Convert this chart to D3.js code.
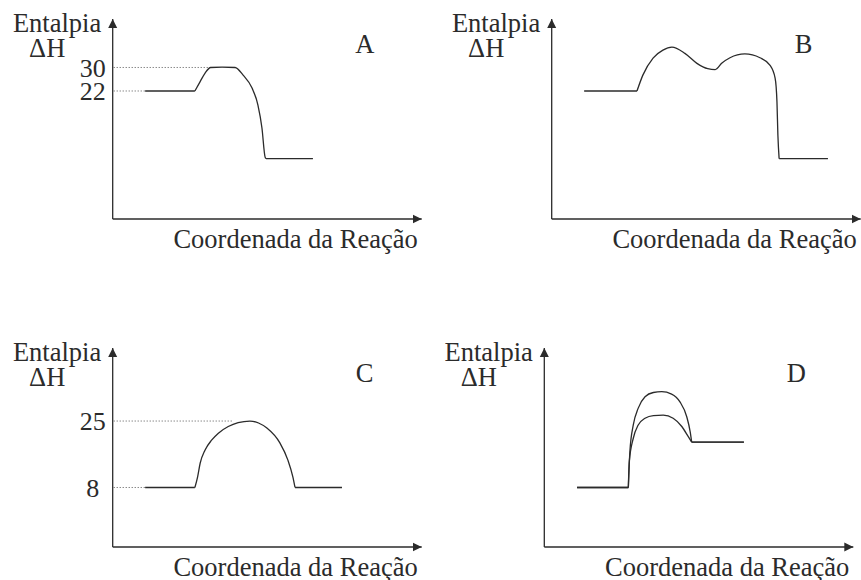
<!DOCTYPE html>
<html>
<head>
<meta charset="utf-8">
<script src="https://cdn.jsdelivr.net/npm/d3@7"></script>
<style>
  body { margin: 0; background: #fff; }
</style>
</head>
<body>
<div id="chart"></div>
<script>
// enthalpy profiles, x = reaction coordinate (0-100), y = enthalpy
var curveA = [[10.5,22],[26.6,22],[28.3,25.2],[29.9,28.1],[31.7,30],[35.4,30.1],[39.6,30],[42.2,27.4],[45.1,23],[47,17.2],[48.3,9.4],[49.3,-0.4],[49.6,-1],[64.8,-1]];
var curveB = [[10.5,22],[27.6,22],[29.5,27.4],[32.8,33.2],[36,35.9],[38.9,36.9],[43.1,34.8],[47,31.4],[50.5,29.6],[52.9,29.3],[55.1,31.5],[57.7,33.3],[62.5,34.6],[67.4,33.3],[70.6,30.8],[72.3,26.4],[72.9,18.3],[73.2,7],[73.6,-1],[89.4,-1]];
var curveC = [[10.5,8],[26.6,8],[27.5,10.8],[28.3,14.2],[29.9,17.6],[32,20.1],[34.2,21.9],[37.4,23.6],[40.6,24.6],[44.4,25],[47.2,24.5],[49.9,23.2],[54.1,19.4],[56.7,15],[58.3,10.7],[59,8],[74.2,8]];
var curveDupper = [[10.6,8],[27.2,8],[27.7,17.2],[28.8,24],[30.4,28.3],[32.6,31.2],[35.3,32.3],[38,32.5],[41.2,31.9],[43.9,29.9],[46.1,26.1],[47.2,22.3],[47.7,19.6],[64.6,19.6]];
var curveDlower = [[10.6,8],[27.2,8],[27.5,14.6],[28.8,20.6],[30.4,24],[32.6,25.7],[35.3,26.4],[38.5,26.5],[41.7,25.7],[44.5,23.6],[46.6,21],[47.7,19.6],[64.6,19.6]];

// labelled levels and where their dotted guide stops
var ticksA = [22, 30];
var guideEndA = [10.5, 31.7];
var ticksC = [8, 25];
var guideEndC = [10.5, 38.9];

var letters = ["A", "B", "C", "D"];

var width = 861, height = 580;
var ink = "#2b2b2b";
var fontFamily = "Liberation Serif, Times New Roman, DejaVu Serif, serif";

var svg = d3.select("#chart")
  .append("svg")
    .attr("width", width)
    .attr("height", height)
    .attr("viewBox", [0, 0, width, height])
    .attr("font-family", fontFamily);

svg.append("defs").append("marker")
    .attr("id", "arrow")
    .attr("markerUnits", "userSpaceOnUse")
    .attr("markerWidth", 10)
    .attr("markerHeight", 10)
    .attr("viewBox", "0 -5 10 10")
    .attr("refX", 9)
    .attr("refY", 0)
    .attr("orient", "auto")
  .append("path")
    .attr("d", "M0,-4.5L9,0L0,4.5Z")
    .attr("fill", ink);

var line = d3.line().curve(d3.curveMonotoneX);

// split a profile where a flat level meets a slope, so the corners stay sharp
function pieces(pts) {
  var out = [], cur = [pts[0]], flat = null;
  for (var i = 1; i < pts.length; i++) {
    var f = pts[i][1] === pts[i - 1][1];
    if (flat !== null && f !== flat) { out.push(cur); cur = [pts[i - 1]]; }
    cur.push(pts[i]);
    flat = f;
  }
  out.push(cur);
  return out;
}

function panel(ox, oy, top, yDomain, curves, letter, ticks, guideEnds) {
  var x = d3.scaleLinear().domain([0, 100]).range([ox, ox + 309]);
  var y = d3.scaleLinear().domain(yDomain).range([oy, top]);
  var g = svg.append("g");

  // axes with arrowheads
  g.append("line")
      .attr("x1", x.range()[0]).attr("y1", oy)
      .attr("x2", x.range()[1]).attr("y2", oy)
      .attr("stroke", ink).attr("stroke-width", 1.3)
      .attr("marker-end", "url(#arrow)");
  g.append("line")
      .attr("x1", ox).attr("y1", y.range()[0])
      .attr("x2", ox).attr("y2", y.range()[1])
      .attr("stroke", ink).attr("stroke-width", 1.3)
      .attr("marker-end", "url(#arrow)");

  if (ticks) {
    var ax = g.append("g")
        .attr("transform", `translate(${ox},0)`)
        .call(d3.axisLeft(y).tickValues(ticks).tickSize(0).tickFormat(d3.format("d")));
    ax.select(".domain").remove();
    ax.attr("font-family", fontFamily).attr("font-size", 26);
    ax.selectAll("text")
        .attr("x", -20)
        .attr("dy", "0.34em")
        .attr("text-anchor", "middle")
        .attr("fill", ink);

    g.selectAll(".guide")
      .data(ticks)
      .join("line")
        .attr("class", "guide")
        .attr("x1", ox + 1).attr("x2", (d, i) => x(guideEnds[i]))
        .attr("y1", d => y(d)).attr("y2", d => y(d))
        .attr("stroke", "#555")
        .attr("stroke-width", 1)
        .attr("stroke-dasharray", "1,2");
  }

  curves.forEach(c => {
    g.append("g").selectAll("path")
      .data(pieces(c))
      .join("path")
        .attr("fill", "none")
        .attr("stroke", ink)
        .attr("stroke-width", 1.3)
        .attr("stroke-linejoin", "round")
        .attr("d", d => line(d.map(p => [x(p[0]), y(p[1])])));
  });

  var txt = (s, tx, ty, anchor) => g.append("text")
      .attr("x", tx).attr("y", ty)
      .attr("text-anchor", anchor)
      .attr("fill", ink)
      .attr("font-size", 26.5)
      .text(s);

  txt("Entalpia", ox - 11.5, top + 12.7, "end");
  txt("\u0394H", ox - 65.5, top + 38, "middle");
  txt(letter, ox + 252, top + 34, "middle");
  txt("Coordenada da Rea\u00e7\u00e3o", ox + 305, oy + 29, "end");
}

panel(112.7, 219, 19, [-21.54, 46.49], [curveA], letters[0], ticksA, guideEndA);
panel(551.7, 219, 19, [-21.54, 46.49], [curveB], letters[1]);
panel(112.7, 547, 348, [-7.22, 43.68], [curveC], letters[2], ticksC, guideEndC);
panel(544.3, 547, 348, [-7.22, 43.68], [curveDupper, curveDlower], letters[3]);
</script>
</body>
</html>
